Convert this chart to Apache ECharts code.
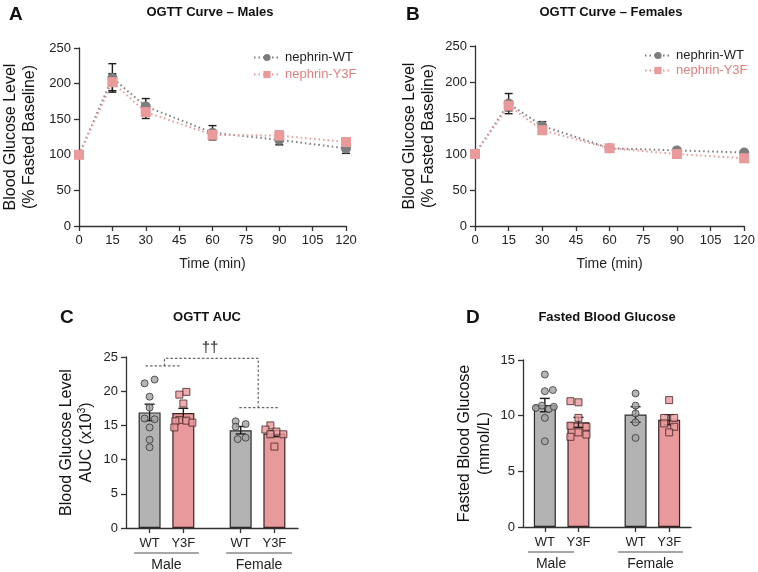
<!DOCTYPE html>
<html><head><meta charset="utf-8">
<script src="https://cdn.jsdelivr.net/npm/echarts@6/dist/echarts.min.js"></script>
<style>html,body{margin:0;padding:0;background:#fff}#c{width:758px;height:572px}</style>
</head><body><div id="c"></div>
<script>
// ---------- DATA ----------
const timePoints = [0, 15, 30, 60, 90, 120];
const timeTicks = [0, 15, 30, 45, 60, 75, 90, 105, 120];
const maleWT = [100, 208, 168, 131, 121, 109];
const maleWTsem = [0, 20, 11, 10, 7, 7];
const maleY3F = [100, 202, 160, 128, 127, 118];
const maleY3Fsem = [0, 12, 9, 6, 6, 6];
const femaleWT = [100, 170, 139, 108, 105, 102];
const femaleWTsem = [0, 14, 6, 2, 2, 2];
const femaleY3F = [100, 167, 133, 108, 100, 94];
const femaleY3Fsem = [0, 7, 5, 2, 3, 3];

const barCategories = ['WT', 'Y3F', 'WT', 'Y3F'];
const groupNames = ['Male', 'Female'];
const aucMeans = [16.9, 16.8, 14.3, 13.8];
const aucSem = [1.2, 0.7, 0.55, 0.45];
const aucPoints = [
  [21.15, 21.7, 19.2, 17.6, 16.0, 15.9, 14.7, 12.9, 11.8],
  [19.9, 19.5, 18.2, 15.8, 15.7, 15.6, 15.4, 14.7],
  [15.6, 15.2, 14.8, 13.0, 13.2],
  [15.0, 14.4, 14.1, 13.7, 13.7, 11.9]
];
const fbgMeans = [10.95, 9.4, 10.1, 9.63];
const fbgSem = [0.6, 0.45, 0.7, 0.45];
const fbgPoints = [
  [13.7, 12.2, 12.3, 10.7, 10.9, 10.6, 10.8, 9.8, 7.7],
  [11.3, 11.2, 9.8, 9.1, 9.0, 8.1, 8.5, 8.3],
  [12.0, 10.9, 10.2, 9.4, 8.0],
  [11.4, 9.8, 9.8, 9.3, 9.0, 8.5]
];
const sigLabel = '††';

// ---------- STYLE / LAYOUT ----------
const FF = '"Liberation Sans", Arial, Helvetica, sans-serif';
const catPos = [1, 2, 3.7, 4.7];
// horizontal jitter (px) of individual points
const aucJitter = [
  [-5, 5, 0, 0, -5, 5, 0, 0, 0],
  [3, -4, 0, -4, 3, -8, 9, -9],
  [-5, 5, -5, -3, 5],
  [-4, -9, 2, 9, -4, 0]
];
const fbgJitter = [
  [0, 0, 8, -9, -3, 4, 9, 0, 0],
  [-8, 0, 0, -8, 8, -8, 0, 8],
  [0, 0, 0, 0, 0],
  [0, -5, 5, -5, 5, 0]
];
const GRAY_MK = '#7d7d7d', PINK_MK = '#eb9a9b', PINK_TXT = '#e27f80';
const BAR_GRAY = '#b3b3b3', BAR_PINK = '#e8999b';
const AX = '#333';

const chart = echarts.init(document.getElementById('c'), null, {renderer: 'canvas'});

function axisCommon() {
  return {
    axisLine: {show: true, lineStyle: {color: AX, width: 1.3}},
    axisTick: {show: true, length: 5, lineStyle: {color: AX, width: 1.3}},
    axisLabel: {color: '#222', fontSize: 13, fontFamily: FF},
    splitLine: {show: false}
  };
}

function errSeries(xi, xs, means, sems, cap, z) {
  const data = [];
  xs.forEach((x, i) => { if (sems[i] > 0) data.push([x, means[i] - sems[i], means[i] + sems[i]]); });
  return {
    type: 'custom', xAxisIndex: xi, yAxisIndex: xi, z: z, silent: true,
    encode: {x: 0, y: [1, 2]},
    data: data,
    renderItem: function (params, api) {
      const x = api.value(0);
      const a = api.coord([x, api.value(2)]);
      const b = api.coord([x, api.value(1)]);
      const st = {stroke: '#1e1e1e', lineWidth: 1.4};
      return {type: 'group', children: [
        {type: 'line', shape: {x1: a[0], y1: a[1], x2: b[0], y2: b[1]}, style: st},
        {type: 'line', shape: {x1: a[0] - cap, y1: a[1], x2: a[0] + cap, y2: a[1]}, style: st},
        {type: 'line', shape: {x1: b[0] - cap, y1: b[1], x2: b[0] + cap, y2: b[1]}, style: st}
      ]};
    }
  };
}

function lineSeries(name, gi, vals, color, symbol) {
  return {
    name: name, type: 'line', xAxisIndex: gi, yAxisIndex: gi, z: 5,
    data: timePoints.map((t, i) => [t, vals[i]]),
    symbol: symbol, symbolSize: 10,
    lineStyle: {type: [1.5, 3], width: 2, color: color},
    itemStyle: {color: color},
    emphasis: {disabled: true}
  };
}

function barPanel(gi, means, sems, points, jit) {
  const s = [];
  s.push({
    type: 'bar', xAxisIndex: gi, yAxisIndex: gi, barWidth: 22, z: 2,
    data: catPos.map((p, i) => ({value: [p, means[i]],
      itemStyle: {color: i % 2 === 0 ? BAR_GRAY : BAR_PINK, borderColor: i % 2 === 0 ? '#2a2a2a' : '#3d2222', borderWidth: 1.2}})),
    emphasis: {disabled: true}
  });
  s.push(errSeries(gi, catPos, means, sems, 5, 3));
  points.forEach((arr, i) => {
    const isWT = i % 2 === 0;
    s.push({
      type: 'scatter', xAxisIndex: gi, yAxisIndex: gi, z: 4,
      symbol: isWT ? 'circle' : 'rect', symbolSize: 7,
      itemStyle: {color: isWT ? '#a3a3a3' : BAR_PINK, borderColor: isWT ? '#333' : '#4a2424', borderWidth: 1},
      data: arr.map((v, j) => ({value: [catPos[i], v], symbolOffset: [jit[i][j], 0]})),
      emphasis: {disabled: true}
    });
  });
  return s;
}

const bracketStyle = {color: '#666', width: 1.2, type: [2.5, 2]};
function bracket(pts) {
  return {type: 'line', xAxisIndex: 2, yAxisIndex: 2, data: pts, symbol: 'none', z: 3,
    lineStyle: bracketStyle, silent: true, clip: false};
}

const catAxisX = (gi, min, max) => Object.assign(axisCommon(), {
  type: 'value', gridIndex: gi, min: min, max: max,
  axisTick: {show: true, length: 5, lineStyle: {color: AX, width: 1.3}, customValues: catPos},
  axisLabel: {color: '#222', fontSize: 13, fontFamily: FF, margin: 9, customValues: catPos,
    formatter: v => { const k = catPos.findIndex(p => Math.abs(p - v) < 1e-6); return k >= 0 ? barCategories[k] : ''; }}
});

const TT = {fontSize: 13, fontWeight: 'bold', color: '#111', fontFamily: FF};
const LT = {fontSize: 19, fontWeight: 'bold', color: '#111', fontFamily: FF};
const option = {
  animation: false,
  textStyle: {fontFamily: FF},
  title: [
    {text: 'A', left: 4, top: 0, textStyle: LT},
    {text: 'B', left: 401, top: 0, textStyle: LT},
    {text: 'C', left: 55, top: 303, textStyle: LT},
    {text: 'D', left: 461, top: 303, textStyle: LT},
    {text: 'OGTT Curve – Males', left: 205, top: 1, textAlign: 'center', textStyle: TT},
    {text: 'OGTT Curve – Females', left: 606, top: 1, textAlign: 'center', textStyle: TT},
    {text: 'OGTT AUC', left: 202, top: 306, textAlign: 'center', textStyle: TT},
    {text: 'Fasted Blood Glucose', left: 602, top: 306, textAlign: 'center', textStyle: TT}
  ],
  legend: [
    {orient: 'vertical', left: 248, top: 46, itemWidth: 26, itemHeight: 9, itemGap: 4,
      textStyle: {fontSize: 13, fontFamily: FF, color: '#222'},
      data: [{name: 'nephrin-WT'}, {name: 'nephrin-Y3F', textStyle: {color: PINK_TXT}}]},
    {orient: 'vertical', left: 639, top: 44, itemWidth: 26, itemHeight: 9, itemGap: 2,
      textStyle: {fontSize: 13, fontFamily: FF, color: '#222'},
      data: [{name: 'nephrin-WT'}, {name: 'nephrin-Y3F', textStyle: {color: PINK_TXT}}]}
  ],
  grid: [
    {left: 78, top: 48, width: 268, height: 178},
    {left: 475, top: 46, width: 270, height: 180},
    {left: 126, top: 357, width: 172, height: 171},
    {left: 523, top: 360, width: 168, height: 167}
  ],
  xAxis: [
    Object.assign(axisCommon(), {type: 'value', gridIndex: 0, min: 0, max: 120, interval: 15,
      name: 'Time (min)', nameLocation: 'middle', nameGap: 31,
      nameTextStyle: {fontSize: 14, color: '#222', fontFamily: FF}}),
    Object.assign(axisCommon(), {type: 'value', gridIndex: 1, min: 0, max: 120, interval: 15,
      name: 'Time (min)', nameLocation: 'middle', nameGap: 31,
      nameTextStyle: {fontSize: 14, color: '#222', fontFamily: FF}}),
    catAxisX(2, 0.3, 5.4),
    catAxisX(3, 0.35, 5.35)
  ],
  yAxis: [
    Object.assign(axisCommon(), {type: 'value', gridIndex: 0, min: 0, max: 250, interval: 50,
      name: 'Blood Glucose Level\n(% Fasted Baseline)', nameLocation: 'middle', nameGap: 40,
      nameTextStyle: {fontSize: 16, lineHeight: 19, color: '#111', fontFamily: FF}}),
    Object.assign(axisCommon(), {type: 'value', gridIndex: 1, min: 0, max: 250, interval: 50,
      name: 'Blood Glucose Level\n(% Fasted Baseline)', nameLocation: 'middle', nameGap: 37,
      nameTextStyle: {fontSize: 16, lineHeight: 19, color: '#111', fontFamily: FF}}),
    Object.assign(axisCommon(), {type: 'value', gridIndex: 2, min: 0, max: 25, interval: 5,
      name: 'Blood Glucose Level\nAUC (x10{sup|3})', nameLocation: 'middle', nameGap: 29,
      nameTextStyle: {fontSize: 16, lineHeight: 20, color: '#111', fontFamily: FF,
        rich: {sup: {fontSize: 10, verticalAlign: 'top', padding: [0, 0, 8, 0], color: '#111', fontFamily: FF}}}}),
    Object.assign(axisCommon(), {type: 'value', gridIndex: 3, min: 0, max: 15, interval: 5,
      name: 'Fasted Blood Glucose\n(mmol/L)', nameLocation: 'middle', nameGap: 28,
      nameTextStyle: {fontSize: 16, lineHeight: 20, color: '#111', fontFamily: FF}})
  ],
  series: [
    errSeries(0, timePoints, maleWT, maleWTsem, 4, 3),
    errSeries(0, timePoints, maleY3F, maleY3Fsem, 4, 3),
    lineSeries('nephrin-WT', 0, maleWT, GRAY_MK, 'circle'),
    lineSeries('nephrin-Y3F', 0, maleY3F, PINK_MK, 'rect'),
    errSeries(1, timePoints, femaleWT, femaleWTsem, 4, 3),
    errSeries(1, timePoints, femaleY3F, femaleY3Fsem, 4, 3),
    lineSeries('nephrin-WT', 1, femaleWT, GRAY_MK, 'circle'),
    lineSeries('nephrin-Y3F', 1, femaleY3F, PINK_MK, 'rect'),
    ...barPanel(2, aucMeans, aucSem, aucPoints, aucJitter),
    ...barPanel(3, fbgMeans, fbgSem, fbgPoints, fbgJitter),
    bracket([[0.88, 23.7], [1.95, 23.7]]),
    bracket([[1.44, 23.7], [1.44, 24.8], [4.22, 24.8], [4.22, 17.6]]),
    bracket([[3.66, 17.6], [4.82, 17.6]])
  ]
};
chart.setOption(option);

// group underlines + labels, placed through the axes' own scales
const groupSpans = {2: [[0.54, 2.46], [3.27, 5.22]], 3: [[0.5, 1.87], [3.18, 5.11]]};
const graphics = [];
[2, 3].forEach(gi => {
  groupSpans[gi].forEach((sp, k) => {
    const a = chart.convertToPixel({gridIndex: gi}, [sp[0], 0]);
    const b = chart.convertToPixel({gridIndex: gi}, [sp[1], 0]);
    const y = a[1] + 25;
    graphics.push({type: 'line', shape: {x1: a[0], y1: y, x2: b[0], y2: y}, style: {stroke: '#8a8a8a', lineWidth: 1.5}});
    graphics.push({type: 'text', x: (a[0] + b[0]) / 2, y: y + 12,
      style: {text: groupNames[k], fill: '#222', font: '14px ' + FF, textAlign: 'center', textVerticalAlign: 'middle'}});
  });
});
const sp = chart.convertToPixel({gridIndex: 2}, [2.79, 24.8]);
graphics.push({type: 'text', x: sp[0], y: sp[1] - 11,
  style: {text: sigLabel, fill: '#222', font: '15px ' + FF, textAlign: 'center', textVerticalAlign: 'middle'}});
chart.setOption({graphic: graphics});
</script>
</body></html>
